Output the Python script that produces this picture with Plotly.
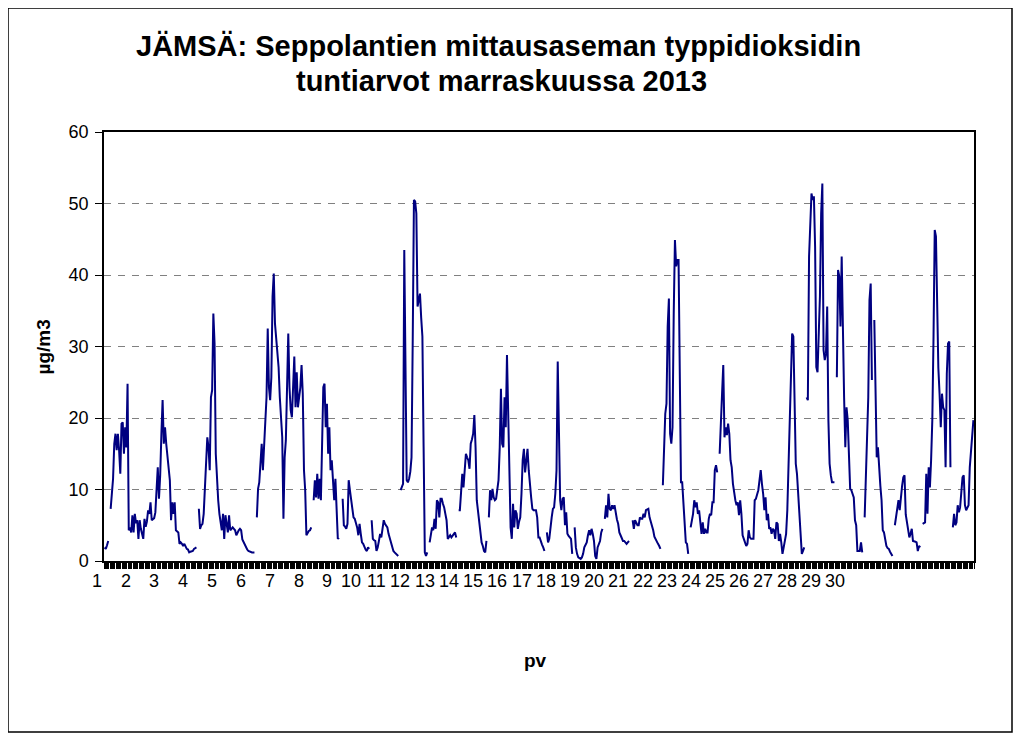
import plotly.graph_objects as go

# Hourly NO2 values (µg/m3), one list per day of November 2013 (None = missing hour)
d1 = [1.9, 1.7, 2.2, 2.8, None, 7.3, 9.4, 11.5, 16.4, 17.8, 15.5, 17.8, 15.5, 12.2, 19.2, 19.4, 15.0, 18.7, 15.9, 24.8, 4.3, 4.7, 4.0, 6.4]
d2 = [4.0, 6.6, 5.3, 5.7, 3.1, 5.7, 4.5, 3.6, 3.1, 5.9, 4.8, 5.5, 7.1, 6.6, 8.2, 5.7, 5.9, 6.0, 6.8, 9.4, 13.1, 8.7, 12.0, 17.8]
d3 = [22.5, 16.4, 18.7, 16.4, 14.5, 12.7, 11.3, 5.7, 8.2, 6.6, 8.2, 4.3, 4.1, 4.0, 2.4, 2.6, 2.4, 2.1, 2.4, 1.9, 1.7, 1.6, 1.2, 1.3]
d4 = [1.3, 1.4, 1.7, 1.8, 1.9, None, 7.3, 4.5, 5.0, 5.2, 6.6, 9.9, 15.0, 17.3, 15.9, 12.7, 22.9, 23.9, 34.6, 30.4, 15.0, 10.5, 8.5, 6.6]
d5 = [5.5, 4.3, 6.6, 3.1, 6.4, 5.0, 4.0, 6.4, 4.3, 4.5, 4.7, 4.5, 4.3, 3.6, 4.0, 4.3, 4.5, 4.3, 3.0, 2.6, 2.2, 1.9, 1.6, 1.4]
d6 = [1.3, 1.2, 1.2, 1.2, 1.2, None, 6.1, 10.1, 11.0, 13.5, 16.4, 12.7, 16.9, 19.5, 22.9, 32.5, 24.3, 22.5, 25.7, 37.0, 40.2, 33.2, 30.9, 28.5]
d7 = [27.1, 22.9, 19.2, 17.3, 5.9, 14.5, 16.9, 23.4, 31.8, 24.3, 21.1, 20.1, 23.4, 28.6, 21.5, 26.4, 21.5, 22.9, 24.3, 27.4, 23.4, 12.7, 9.9, 3.6]
d8 = [4.0, 4.2, 4.3, 4.7, None, 8.5, 11.3, 8.9, 12.2, 8.7, 11.5, 8.5, 15.9, 24.3, 24.8, 18.7, 22.0, 15.0, 18.7, 12.7, 14.1, 11.0, 8.5, 11.5]
d9 = [5.7, 3.1, 3.3, None, None, 8.7, 5.0, 4.8, 4.5, 5.2, 11.3, 9.9, 8.5, 7.1, 6.1, 5.9, 5.3, 4.7, 3.6, 5.2, 3.8, 2.6, 2.4, 1.9]
d10 = [1.6, 1.4, 1.9, 1.7, None, 5.7, 3.1, 2.9, 2.8, 1.4, 1.9, 2.8, 3.8, 3.3, 4.7, 5.7, 5.2, 5.0, 4.7, 3.8, 3.2, 2.8, 1.9, 1.4]
d11 = [1.2, 1.0, 0.8, 0.7, None, 9.9, 10.5, 10.8, 43.5, 27.0, 11.3, 11.0, 11.5, 12.5, 14.5, 30.9, 50.5, 50.3, 48.6, 35.6, 36.5, 37.4, 34.0, 31.4]
d12 = [16.0, 1.2, 0.7, 1.2, None, 2.6, 3.8, 4.7, 4.3, 5.9, 4.5, 8.5, 8.2, 6.1, 8.7, 8.7, 8.0, 7.5, 6.6, 5.7, 3.1, 3.4, 3.6, 3.3]
d13 = [3.6, 3.8, 4.0, 3.3, None, 7.1, 7.1, 9.6, 12.2, 10.3, 12.2, 15.0, 14.5, 14.1, 12.9, 16.4, 17.0, 17.8, 20.4, 15.9, 8.5, 7.1, 5.0, 3.8]
d14 = [2.6, 2.1, 1.4, 1.2, 2.8, None, 6.1, 9.9, 8.5, 10.1, 8.9, 8.5, 8.7, 9.8, 11.3, 15.9, 24.1, 16.4, 15.9, 22.9, 18.7, 28.8, 21.1, 15.9]
d15 = [4.7, 3.1, 8.0, 4.7, 7.1, 6.6, 4.5, 5.5, 6.1, 9.4, 14.1, 15.7, 12.4, 14.0, 15.7, 12.7, 10.3, 8.9, 7.3, 7.1, 7.1, 7.1, 6.1, 3.3]
d16 = [3.3, 2.6, 2.3, 1.9, 1.4, None, 4.0, 2.6, 3.1, 5.0, 6.1, 7.3, 7.5, 9.4, 12.7, 27.9, 14.1, 8.5, 7.1, 8.7, 8.9, 5.0, 6.8, 3.8]
d17 = [3.5, 3.3, 3.1, 1.0, None, 4.7, 1.9, 1.0, 0.5, 0.4, 0.3, 0.5, 1.0, 1.9, 2.2, 2.6, 3.6, 4.3, 3.6, 4.5, 3.8, 2.8, 0.7, 0.3]
d18 = [1.9, 2.4, 2.8, 4.0, 4.5, None, 5.9, 7.8, 6.1, 9.4, 7.3, 7.1, 7.8, 7.3, 7.8, 6.4, 5.8, 5.2, 4.0, 3.6, 3.2, 2.8, 2.8, 2.6]
d19 = [2.4, 2.6, 2.8, None, None, 5.7, 4.5, 5.7, 5.2, 5.0, 5.0, 6.1, 5.9, 5.9, 6.6, 6.1, 7.1, 7.2, 7.3, 6.1, 5.6, 5.0, 4.3, 3.4]
d20 = [3.0, 2.8, 2.4, 2.1, 1.7, None, 10.6, 14.5, 20.6, 22.0, 32.8, 36.7, 17.8, 16.4, 18.7, 34.6, 44.9, 41.2, 42.1, 42.1, 25.3, 11.0, 11.0, 8.5]
d21 = [5.0, 2.6, 2.4, 1.0, None, 4.7, 5.6, 6.6, 8.5, 7.5, 8.2, 6.6, 7.1, 5.5, 3.8, 5.4, 3.8, 4.5, 4.0, 4.0, 5.9, 6.6, 6.4, 8.2]
d22 = [8.2, 12.7, 13.4, 12.4, None, 15.0, 20.6, 23.4, 27.4, 17.3, 18.7, 17.6, 19.2, 17.8, 14.1, 13.1, 10.8, 9.5, 8.5, 7.8, 8.2, 6.4, 8.5, 6.6]
d23 = [3.6, 3.1, 2.6, 2.1, 2.4, 4.3, 3.3, 3.1, 3.1, 3.1, 8.5, 8.7, 9.3, 9.9, 11.3, 12.7, 10.8, 9.4, 7.1, 8.9, 5.7, 6.6, 4.5, 4.7]
d24 = [3.8, 4.5, 4.3, 3.1, 5.4, 5.2, 2.8, 3.8, 2.6, 1.0, 1.9, 2.8, 3.8, 7.1, 12.7, 18.0, 23.4, 31.8, 31.4, 22.9, 13.6, 12.2, 8.9, 6.6]
d25 = [3.3, 1.0, 1.4, 1.9, None, 22.9, 22.5, 42.6, 46.3, 51.4, 50.5, 51.0, 44.0, 27.1, 26.4, 31.0, 37.0, 48.6, 52.8, 29.5, 28.1, 29.0, 35.6, 19.7]
d26 = [13.6, 12.0, 11.0, 11.0, 11.0, None, 25.7, 40.7, 39.8, 32.8, 42.6, 30.0, 22.9, 15.9, 21.5, 19.7, 14.5, 10.1, 9.9, 9.5, 8.9, 5.7, 5.0, 1.4]
d27 = [1.4, 1.4, 2.6, 1.2, None, 6.1, 12.7, 18.0, 22.9, 36.5, 38.8, 25.3, None, 33.7, 20.0, 14.5, 15.9, 12.7, 10.5, 8.5, 4.3, 4.0, 3.0, 2.1]
d28 = [1.8, 1.7, 1.3, 1.0, 0.7, None, 5.0, 6.1, 7.0, 8.5, 7.1, 9.4, 10.5, 11.7, 12.0, 6.5, 5.2, 4.5, 3.3, 3.8, 4.5, 2.8, 2.8, 2.7]
d29 = [2.6, 1.4, 2.1, 1.9, None, 5.2, 5.3, 5.4, 12.2, 6.6, 13.1, 10.3, 14.1, 19.7, 31.4, 46.3, 45.4, 32.3, 27.0, 23.4, 18.7, 23.4, 21.5, 21.1]
d30 = [13.1, 26.2, 30.4, 30.7, 13.1, None, 4.7, 6.6, 5.0, 5.4, 7.8, 6.8, 7.5, 9.5, 11.7, 12.0, 7.8, 7.1, 7.5, 7.8, 13.1, 15.0, 17.5, 19.7]

days = [d1, d2, d3, d4, d5, d6, d7, d8, d9, d10, d11, d12, d13, d14, d15,
        d16, d17, d18, d19, d20, d21, d22, d23, d24, d25, d26, d27, d28, d29, d30]
values = [v for d in days for v in d]
hours = list(range(len(values)))

day_labels = [str(i) for i in range(1, 31)]

title_line1 = "JÄMSÄ: Seppolantien mittausaseman typpidioksidin"
title_line2 = "tuntiarvot marraskuussa 2013"
y_title = "µg/m3"
x_title = "pv"

# ---- layout geometry (reference-image pixels; the page adds an 8px body margin) ----
OFF = 8
W, H = 1021 - OFF, 740 - OFF
PL, PR, PT, PB = 104, 974, 132, 561
PW, PH = PR - PL, PB - PT
FONT = "Liberation Sans, Arial, sans-serif"


def px_x(px):
    return (px - PL) / PW


def px_y(py):
    return (PB - py) / PH


label_px = [97, 126, 154, 183, 212, 241, 270, 299, 327, 351, 376, 400, 425, 449, 473,
            497, 522, 546, 570, 594, 618, 643, 667, 691, 715, 739, 763, 787, 811, 835]

fig = go.Figure()
fig.add_trace(go.Scatter(
    x=hours, y=values, mode="lines",
    line=dict(color="#000080", width=2),
    connectgaps=False, hoverinfo="skip", showlegend=False,
))

annotations = []
for txt, px in zip(day_labels, label_px):
    annotations.append(dict(
        text=txt, xref="paper", yref="paper", x=px_x(px), y=px_y(581),
        xanchor="center", yanchor="middle", showarrow=False,
        font=dict(family=FONT, size=18, color="black"),
    ))
annotations += [
    dict(text="<b>%s</b>" % title_line1, xref="paper", yref="paper",
         x=px_x(498), y=px_y(46), xanchor="center", yanchor="middle",
         showarrow=False, font=dict(family=FONT, size=29, color="black")),
    dict(text="<b>%s</b>" % title_line2, xref="paper", yref="paper",
         x=px_x(501), y=px_y(81), xanchor="center", yanchor="middle",
         showarrow=False, font=dict(family=FONT, size=29, color="black")),
    dict(text="<b>%s</b>" % y_title, xref="paper", yref="paper",
         x=px_x(43), y=0.5, xanchor="center", yanchor="middle", textangle=-90,
         showarrow=False, font=dict(family=FONT, size=19, color="black")),
    dict(text="<b>%s</b>" % x_title, xref="paper", yref="paper",
         x=px_x(535), y=px_y(660), xanchor="center", yanchor="middle",
         showarrow=False, font=dict(family=FONT, size=19, color="black")),
]

fig.update_layout(
    width=W, height=H,
    margin=dict(l=PL - OFF, r=(1021 - PR), t=PT - OFF, b=(740 - PB), pad=0),
    paper_bgcolor="white", plot_bgcolor="white",
    font=dict(family=FONT, size=18, color="black"),
    annotations=annotations,
    shapes=[dict(type="rect", xref="paper", yref="paper",
                 x0=px_x(8), x1=px_x(1012), y0=px_y(732), y1=px_y(8),
                 line=dict(color="black", width=1.5), fillcolor="rgba(0,0,0,0)",
                 layer="above")],
)
fig.update_xaxes(
    range=[-0.5, len(values) - 0.5], showgrid=False, zeroline=False,
    showline=True, linecolor="black", linewidth=1.5, mirror=True,
    ticks="", showticklabels=False,
    minor=dict(ticks="outside", ticklen=6, tick0=0.5, dtick=1,
               tickcolor="black", tickwidth=1, showgrid=False),
)
fig.update_yaxes(
    range=[0, 60], tick0=0, dtick=10, showgrid=True, gridcolor="#808080",
    gridwidth=1, griddash="7px,7px", zeroline=False,
    showline=True, linecolor="black", linewidth=1.5, mirror=True,
    ticks="outside", ticklen=7, tickcolor="black", ticklabelstandoff=3,
    tickfont=dict(family=FONT, size=18, color="black"),
)

fig.write_html("out.html")
